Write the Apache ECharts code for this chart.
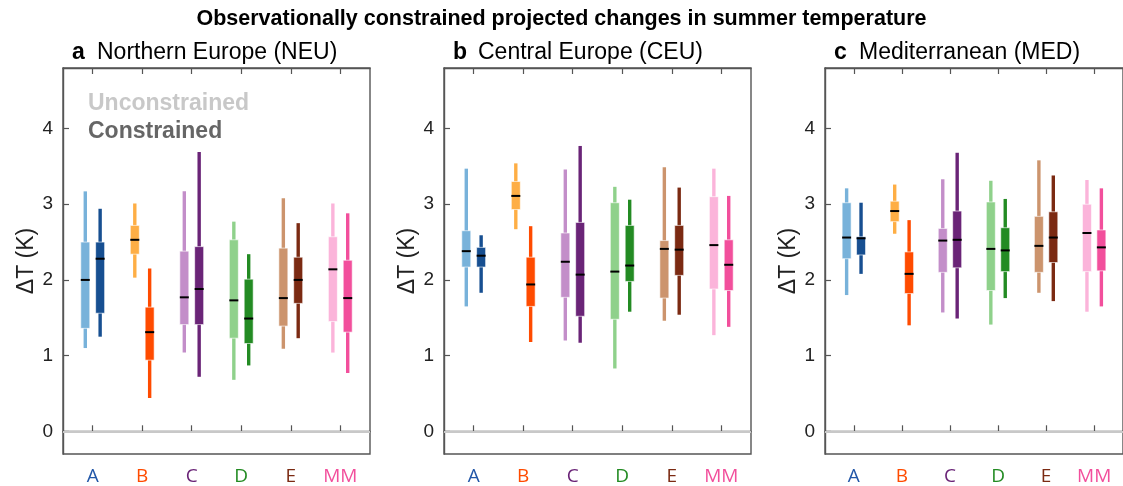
<!DOCTYPE html>
<html>
<head>
<meta charset="utf-8">
<script src="https://cdn.jsdelivr.net/npm/echarts@6/dist/echarts.min.js"></script>
<style>
  html, body { margin: 0; padding: 0; background: #fff; }
  #main { width: 1123px; height: 486px; }
</style>
</head>
<body>
<div id="main"></div>
<script>
// categories and colours
var categories = ['A', 'B', 'C', 'D', 'E', 'MM'];
var uncColors = ['#78b2da', '#feae45', '#c38ec9', '#8fd18b', '#cc946d', '#fbb4da'];
var conColors = ['#174f91', '#ff4b00', '#6a2477', '#238b23', '#7b2a12', '#f24f9c'];
var yTicks = [0, 1, 2, 3, 4];

// each entry: [min, q1, median, q3, max]
var neuUnc = [[1.10, 1.36, 2.00, 2.50, 3.17], [2.03, 2.34, 2.53, 2.72, 3.01], [1.04, 1.41, 1.77, 2.38, 3.17],
              [0.68, 1.23, 1.73, 2.53, 2.77], [1.09, 1.39, 1.76, 2.42, 3.08], [1.04, 1.45, 2.14, 2.57, 3.01]];
var neuCon = [[1.25, 1.56, 2.28, 2.50, 2.94], [0.44, 0.94, 1.31, 1.64, 2.15], [0.72, 1.41, 1.88, 2.44, 3.69],
              [0.87, 1.16, 1.49, 2.01, 2.34], [1.23, 1.69, 2.00, 2.30, 2.75], [0.77, 1.31, 1.76, 2.26, 2.88]];
var ceuUnc = [[1.65, 2.17, 2.38, 2.65, 3.47], [2.67, 2.93, 3.11, 3.30, 3.54], [1.20, 1.77, 2.24, 2.62, 3.46],
              [0.83, 1.48, 2.11, 3.02, 3.23], [1.46, 1.76, 2.41, 2.52, 3.49], [1.27, 1.88, 2.46, 3.10, 3.47]];
var ceuCon = [[1.83, 2.17, 2.32, 2.43, 2.59], [1.18, 1.65, 1.94, 2.30, 2.71], [1.17, 1.52, 2.07, 2.76, 3.77],
              [1.58, 1.98, 2.19, 2.72, 3.06], [1.54, 2.06, 2.40, 2.72, 3.22], [1.38, 1.86, 2.20, 2.53, 3.11]];
var medUnc = [[1.80, 2.28, 2.56, 3.02, 3.21], [2.61, 2.77, 2.91, 3.04, 3.26], [1.57, 2.10, 2.52, 2.68, 3.33],
              [1.41, 1.86, 2.41, 3.03, 3.31], [1.83, 2.10, 2.45, 2.84, 3.58], [1.58, 2.11, 2.62, 3.00, 3.32]];
var medCon = [[2.08, 2.33, 2.55, 2.57, 3.02], [1.40, 1.82, 2.08, 2.37, 2.79], [1.49, 2.16, 2.53, 2.91, 3.68],
              [1.76, 2.11, 2.39, 2.69, 3.07], [1.72, 2.23, 2.56, 2.90, 3.38], [1.65, 2.12, 2.43, 2.66, 3.21]];

var panels = [
    {letter: 'a', name: 'Northern Europe (NEU)', left: 63, unc: neuUnc, con: neuCon},
    {letter: 'b', name: 'Central Europe (CEU)', left: 444, unc: ceuUnc, con: ceuCon},
    {letter: 'c', name: 'Mediterranean (MED)', left: 825, unc: medUnc, con: medCon}
];

var font = '"Liberation Sans", Arial, sans-serif';
var frame = '#555555';
var offset = 0.15;

function pairData(unc, con) {
    var out = [];
    for (var i = 0; i < categories.length; i++) {
        out.push([i + 1 - offset].concat(unc[i], [0, i]));
        out.push([i + 1 + offset].concat(con[i], [1, i]));
    }
    return out;
}

function renderBox(params, api) {
    var x = api.value(0);
    var kind = api.value(6);
    var idx = api.value(7);
    var color = kind === 0 ? uncColors[idx] : conColors[idx];
    var pLo = api.coord([x, api.value(1)]);
    var pQ1 = api.coord([x, api.value(2)]);
    var pMd = api.coord([x, api.value(3)]);
    var pQ3 = api.coord([x, api.value(4)]);
    var pHi = api.coord([x, api.value(5)]);
    var cx = pLo[0];
    var thin = 3.4, thick = 9;
    return {
        type: 'group',
        children: [
            {type: 'rect', shape: {x: cx - thin / 2, y: pHi[1], width: thin, height: pLo[1] - pHi[1]},
             style: {fill: color}},
            {type: 'rect', shape: {x: cx - thick / 2, y: pQ3[1], width: thick, height: pQ1[1] - pQ3[1]},
             style: {fill: color, stroke: '#ffffff', lineWidth: 0.6}},
            {type: 'rect', shape: {x: cx - thick / 2, y: pMd[1] - 1, width: thick, height: 2},
             style: {fill: '#000000'}}
        ]
    };
}

var labelRich = {};
categories.forEach(function (c, i) {
    labelRich['c' + i] = {color: conColors[i], fontSize: 19, fontFamily: '"Open Sans", sans-serif'};
});
labelRich.c0.color = '#2257a8';

var grids = [], xAxes = [], yAxes = [], series = [];
var titles = [{
    text: 'Observationally constrained projected changes in summer temperature',
    left: 'center', top: 8, padding: 0,
    textStyle: {fontSize: 21.5, fontWeight: 'bold', color: '#000', fontFamily: font}
}];

panels.forEach(function (p, k) {
    grids.push({left: p.left, top: 68, width: 307, height: 389, show: true,
                borderColor: frame, borderWidth: 1.4, backgroundColor: 'transparent'});
    // bottom axis with labels
    xAxes.push({
        type: 'value', gridIndex: k, min: 0.4, max: 6.6, position: 'bottom',
        axisLine: {show: true, lineStyle: {color: frame, width: 1.4}},
        axisTick: {show: true, inside: true, length: 6, customValues: [1, 2, 3, 4, 5, 6],
                   lineStyle: {color: frame, width: 1.2}},
        axisLabel: {show: true, margin: 13, customValues: [1, 2, 3, 4, 5, 6], rich: labelRich,
                    formatter: function (v) { var i = Math.round(v) - 1; return '{c' + i + '|' + categories[i] + '}'; }},
        splitLine: {show: false}
    });
    // top axis, ticks only
    xAxes.push({
        type: 'value', gridIndex: k, min: 0.4, max: 6.6, position: 'top',
        axisLine: {show: true, lineStyle: {color: frame, width: 1.4}},
        axisTick: {show: true, inside: true, length: 6, customValues: [1, 2, 3, 4, 5, 6],
                   lineStyle: {color: frame, width: 1.2}},
        axisLabel: {show: false},
        splitLine: {show: false}
    });
    yAxes.push({
        type: 'value', gridIndex: k, min: -0.3, max: 4.8,
        name: '\u0394T (K)', nameLocation: 'middle', nameRotate: 90, nameGap: 25,
        nameTextStyle: {fontSize: 23, color: '#222', fontFamily: font},
        axisLine: {show: true, lineStyle: {color: frame, width: 1.4}},
        axisTick: {show: true, inside: true, length: 6, customValues: yTicks,
                   lineStyle: {color: frame, width: 1.2}},
        axisLabel: {show: true, margin: 10, fontSize: 19, color: '#222', fontFamily: font, customValues: yTicks},
        splitLine: {show: false}
    });
    series.push({
        type: 'custom', xAxisIndex: k * 2, yAxisIndex: k,
        renderItem: renderBox,
        encode: {x: 0, y: [1, 2, 3, 4, 5]},
        data: pairData(p.unc, p.con),
        silent: true,
        z: 3,
        markLine: {
            silent: true, symbol: 'none', label: {show: false},
            lineStyle: {color: '#c8c8c8', width: 2, type: 'solid'},
            data: [{yAxis: 0}],
            z: 1
        }
    });
    titles.push({
        text: p.letter, left: p.left + 9, top: 41, padding: 0,
        textStyle: {fontSize: 23, fontWeight: 'bold', color: '#000', fontFamily: font}
    });
    titles.push({
        text: p.name, left: p.left + 34, top: 41, padding: 0,
        textStyle: {fontSize: 23, fontWeight: 'normal', color: '#000', fontFamily: font}
    });
});

titles.push({
    text: 'Unconstrained', left: 88, top: 92, padding: 0,
    textStyle: {fontSize: 23, fontWeight: 'bold', color: '#c8c8c8', fontFamily: font}
});
titles.push({
    text: 'Constrained', left: 88, top: 120, padding: 0,
    textStyle: {fontSize: 23, fontWeight: 'bold', color: '#666666', fontFamily: font}
});

var chart = echarts.init(document.getElementById('main'));
chart.setOption({
    animation: false,
    backgroundColor: '#ffffff',
    title: titles,
    grid: grids,
    xAxis: xAxes,
    yAxis: yAxes,
    series: series
});
</script>
</body>
</html>
